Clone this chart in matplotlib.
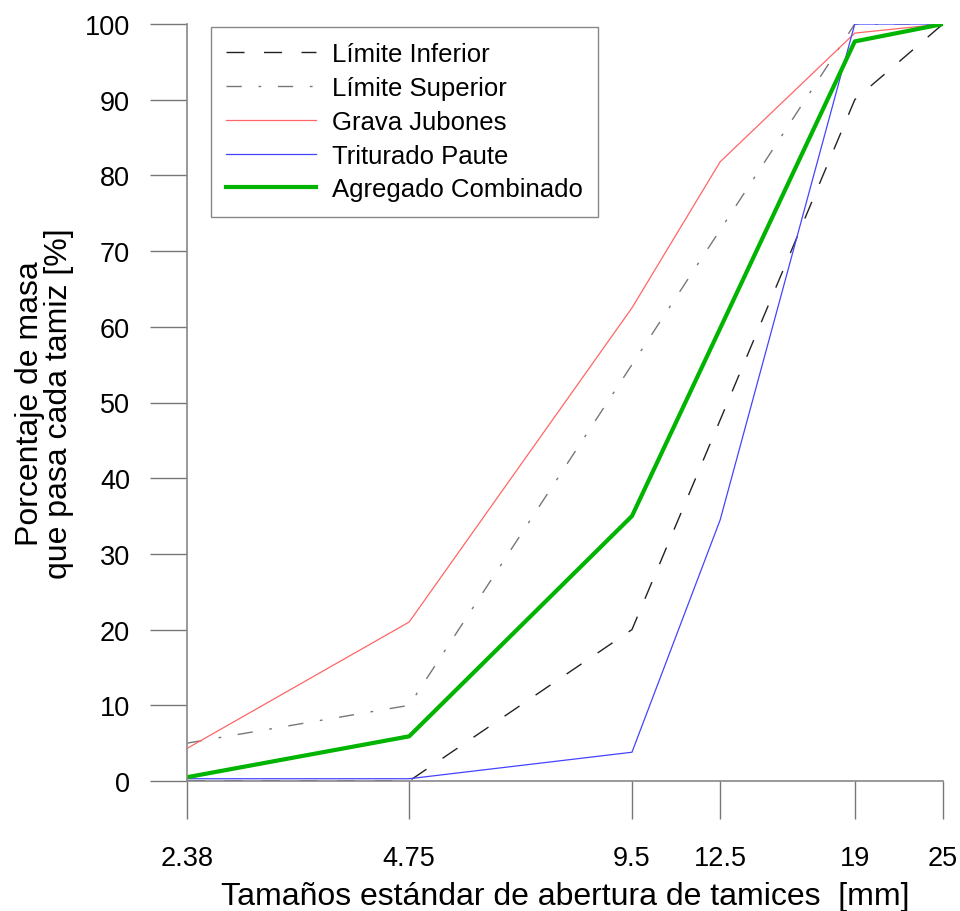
import matplotlib
matplotlib.use('Agg')
import matplotlib.pyplot as plt
from matplotlib.ticker import FixedLocator, NullLocator

plt.rcParams['font.family'] = ['Liberation Sans', 'DejaVu Sans']

tamices = [2.38, 4.75, 9.5, 12.5, 19, 25]
tick_labels = ['2.38', '4.75', '9.5', '12.5', '19', '25']
lim_inferior = [0, 0, 20, 47.7, 90, 100]
lim_superior = [5, 10, 55, 72.8, 100, 100]
grava_jubones = [4.3, 21.0, 62.5, 81.8, 98.8, 100]
triturado_paute = [0.3, 0.3, 3.8, 34.5, 100, 100]
agregado_comb = [0.5, 5.9, 35.0, 59.8, 97.7, 100]

fig = plt.figure(figsize=(9.6, 9.12), dpi=100)
ax = fig.add_axes([187/960, 1-782/912, (943-187)/960, (782-25)/912])

ax.plot(tamices, lim_inferior, color='#222222', lw=1.0, dashes=(13, 14), label='Límite Inferior')
ax.plot(tamices, lim_superior, color='#777777', lw=1.0, dashes=(11, 12, 2, 12), label='Límite Superior')
ax.plot(tamices, grava_jubones, color='#ff6666', lw=0.9, label='Grava Jubones')
ax.plot(tamices, triturado_paute, color='#4444ff', lw=0.9, label='Triturado Paute')
ax.plot(tamices, agregado_comb, color='#00b400', lw=3.0, label='Agregado Combinado')

ax.set_xscale('log')
ax.set_xlim(2.38, 25)
ax.set_ylim(0, 100)
ax.xaxis.set_major_locator(FixedLocator(tamices))
ax.xaxis.set_minor_locator(NullLocator())
ax.set_xticks(tamices)
ax.set_xticklabels(tick_labels)
ax.set_yticks(range(0, 101, 10))

for s in ['top', 'right']:
    ax.spines[s].set_visible(False)
for s in ['left', 'bottom']:
    ax.spines[s].set_color('#888888')
    ax.spines[s].set_linewidth(1.2)
ax.tick_params(axis='both', direction='out', length=27, width=1.0, color='#777777',
               labelsize=19.5)
ax.tick_params(axis='y', pad=14)
ax.tick_params(axis='x', pad=19)

ax.set_xlabel('Tamaños estándar de abertura de tamices  [mm]', fontsize=23, labelpad=7)
ax.set_ylabel('Porcentaje de masa\nque pasa cada tamiz [%]', fontsize=23, labelpad=8,
              linespacing=0.95)

leg = ax.legend(loc='upper left', bbox_to_anchor=(211/960, 1-28/912),
                bbox_transform=fig.transFigure, borderaxespad=0, fontsize=18.5,
                handlelength=3.5, labelspacing=0.38, fancybox=False, framealpha=1,
                borderpad=0.6, handletextpad=0.6)
leg.get_frame().set_edgecolor('#888888')
leg.get_frame().set_linewidth(1.0)

fig.savefig('out.png', dpi=100)
